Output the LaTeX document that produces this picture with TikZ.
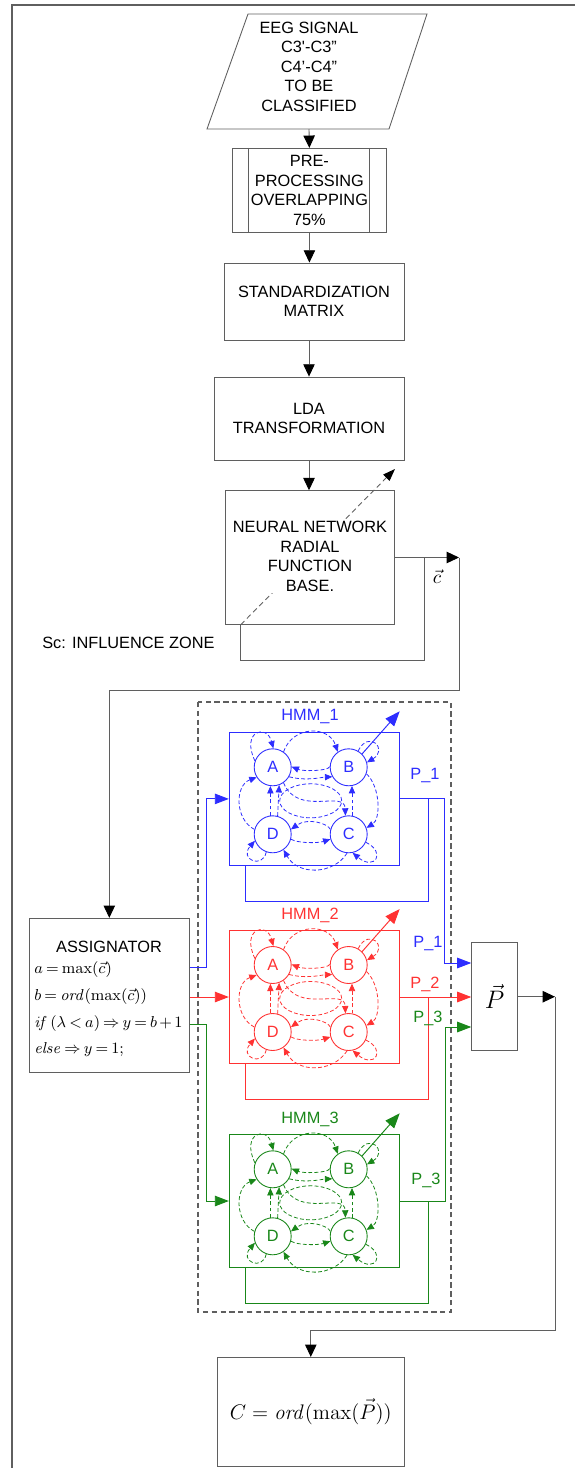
\documentclass[tikz,border=0pt]{standalone}
\usepackage[no-math]{fontspec}
\setmainfont{Liberation Sans}
\usetikzlibrary{arrows.meta,calc}
\definecolor{hb}{RGB}{45,45,255}
\definecolor{hr}{RGB}{255,50,50}
\definecolor{hg}{RGB}{25,135,25}
\definecolor{lgray}{RGB}{95,95,95}
\newcommand\tf{\fontsize{9.3}{11.1}\selectfont}
\newcommand\tightmath{\fontsize{9.5}{11}\selectfont\thickmuskip=3.5mu\relax\medmuskip=2.5mu\relax}
\newcommand\hmmblock[4]{%
\begin{scope}[shift={(#3,#4)}]
\node[st,draw=#2,text=#2] (A#1) at (0,0) {A};
\node[st,draw=#2,text=#2] (B#1) at (76,0) {B};
\node[st,draw=#2,text=#2] (D#1) at (0,67) {D};
\node[st,draw=#2,text=#2] (C#1) at (76,67) {C};
\begin{scope}[tr,#2]
\draw (A#1.160) .. controls (-32,-36) and (-6,-44) .. (A#1.88);
\draw (A#1.55) .. controls (20,-42) and (56,-42) .. (B#1.125);
\draw (B#1.178) .. controls (55,4) and (30,4) .. (A#1.2);
\draw (B#1.60) .. controls (96,-38) and (116,-18) .. (B#1.15);
\draw (D#1.165) .. controls (-38,52) and (-38,18) .. (A#1.212);
\draw (D#1.97) -- (A#1.263);
\draw (D#1.75) -- (A#1.290);
\draw (A#1.-30) .. controls (34,14) and (48,10) .. (B#1.-150);
\draw (A#1.-55) .. controls (25,50) and (72,22) .. (C#1.100);
\draw (B#1.-20) .. controls (108,20) and (108,52) .. (C#1.20);
\draw (C#1.80) -- (B#1.-80);
\draw (C#1.165) .. controls (55,56) and (35,50) .. (D#1.15);
\draw (D#1.-15) .. controls (25,76) and (45,76) .. (C#1.195);
\draw (D#1.-110) .. controls (-10,102) and (-34,92) .. (D#1.200);
\draw (C#1.-95) .. controls (60,108) and (25,108) .. (D#1.-55);
\draw (C#1.-25) .. controls (114,85) and (102,104) .. (C#1.-78);
\draw[-] (38,33.5) ellipse [x radius=0.62cm, y radius=0.34cm];
\end{scope}
\coordinate (o#1) at (127,-56);
\draw[ex,#2] (B#1.45) -- (o#1);
\end{scope}}
\begin{document}
\begin{tikzpicture}[x=0.02cm,y=-0.02cm,
 ln/.style={draw=lgray,line width=0.5pt},
 arr/.style={ln,-{Triangle[length=7pt,width=6.5pt,color=black]}},
 box/.style={ln,align=center,font=\tf,inner sep=0pt},
 st/.style={circle,minimum size=0.74cm,inner sep=0pt,font=\tf,line width=0.5pt},
 tr/.style={line width=0.45pt,dash pattern=on 2.2pt off 1.3pt,-{Triangle[length=4.2pt,width=3.6pt]}},
 carr/.style={line width=0.55pt,-{Triangle[length=8pt,width=6pt]}},
 ex/.style={line width=0.55pt,-{Triangle[length=8.5pt,width=6.5pt]}},
 cln/.style={line width=0.55pt},
 lab/.style={font=\tf,inner sep=0pt,align=center}]
\useasboundingbox (0,0) rectangle (575,1468);
\draw[lgray,line width=0.9pt] (575,5) -- (12,5) -- (12,1468);
% dashed region
\draw[lgray,line width=0.6pt,dash pattern=on 3pt off 2pt] (198,702) rectangle (451,1312);
% input
\node[lab] (eeg) at (309,66.5) {EEG SIGNAL\\C3\textquotesingle-C3"\\C4’-C4”\\TO BE\\CLASSIFIED};
\draw[ln] (248,14) -- (427,14) -- (389,129) -- (207,129) -- cycle;
\coordinate (eegb) at (309,129);
\node[box,minimum width=3.066cm,minimum height=1.688cm] (pre) at (309.4,190.5) {PRE-\\PROCESSING\\OVERLAPPING\\75\%};
\draw[ln] ([xshift=0.332cm]pre.north west) -- ([xshift=0.332cm]pre.south west);
\draw[ln] ([xshift=-0.332cm]pre.north east) -- ([xshift=-0.332cm]pre.south east);
\node[box,minimum width=3.6cm,minimum height=1.54cm] (std) at (314,301.5) {STANDARDIZATION\\MATRIX};
\node[box,minimum width=3.8cm,minimum height=1.66cm] (lda) at (309,418.5) {LDA\\TRANSFORMATION};
\node[box,minimum width=3.386cm,minimum height=2.672cm] (nn) at (309.6,557.5) {};
\draw[arr] (eegb) -- (pre.north);
\draw[arr] (pre.south) -- (pre.south |- std.north);
\draw[arr] (lda.north |- std.south) -- (lda.north);
\draw[arr] (lda.south) -- (lda.south |- nn.north);
% NN feedback and influence zone
\coordinate (cj) at (424,557.5);
\coordinate (ct) at (459,557.5);
\coordinate (zt) at (395,469);
\draw[lgray,line width=0.5pt,dash pattern=on 3pt off 2pt,-{Triangle[length=7pt,width=5pt,color=black]}] (nn.south -| 240.7,0) -- (zt);
\node[lab,fill=white,inner sep=1pt] (nnt) at (310,556.5) {NEURAL NETWORK\\RADIAL\\FUNCTION\\BASE.};
\draw[arr] (nn.east) -- (ct);
\draw[ln] (cj) |- (240.7,660) -- (nn.south -| 240.7,0);
\node[lab,anchor=west] (sc) at (42,643) {Sc: INFLUENCE ZONE};
\node[font=\fontsize{11}{12}\selectfont,inner sep=0pt] (cv) at (437,577) {$\vec{c}$};
% assignator
\node[box,minimum width=3.2cm,minimum height=3.088cm] (asg) at (109.3,995.5) {};
\draw[arr] (ct) -- (459,690) -| (asg.north);
\node[lab] (asgt) at (109,946.7) {ASSIGNATOR};
\begin{scope}[every node/.style={anchor=west,inner sep=0pt,font=\tightmath}]
\node (m1) at (34,970) {$a=\max(\vec{c})$};
\node (m2) at (34,996.7) {$b=\mathit{ord}(\max(\vec{c}))$};
\node (m3) at (34,1024) {$\mathit{if}\,(\lambda<a)\Rightarrow y=b+1$};
\node (m4) at (34,1050) {$\mathit{else}\Rightarrow y=1;$};
\end{scope}
% HMM boxes
\node[draw=hb,cln,minimum width=3.4cm,minimum height=2.674cm] (h1) at (314.3,798.9) {};
\node[draw=hr,cln,minimum width=3.4cm,minimum height=2.674cm] (h2) at (314.3,997) {};
\node[draw=hg,cln,minimum width=3.4cm,minimum height=2.674cm] (h3) at (314.3,1201) {};
\node[lab,text=hb] (l1) at (310,716.7) {HMM\_1};
\node[lab,text=hr] (l2) at (310,915) {HMM\_2};
\node[lab,text=hg] (l3) at (310,1119) {HMM\_3};
\hmmblock{1}{hb}{272.7}{767.3}
\hmmblock{2}{hr}{272.7}{965}
\hmmblock{3}{hg}{272.7}{1169.3}
% inputs
\draw[hb,carr] (asg.east |- 0,967) -- (206,967) |- (h1.west);
\draw[hr,carr] (asg.east |- h2.west) -- (h2.west);
\draw[hg,carr] (asg.east |- 0,1024) -- (206,1024) |- (h3.west);
% P box and outputs
\node[box,minimum width=0.92cm,minimum height=2.16cm,font=\fontsize{14}{16}\selectfont] (pv) at (494.7,996.7) {$\vec{P}$};
\draw[hb,carr] (h1.east) -| (444.5,963) -- (pv.west |- 0,963);
\draw[hb,cln] (h1.east -| 428.3,0) |- (245.7,901) -- (h1.south -| 245.7,0);
\draw[hr,carr] (h2.east) -- (h2.east -| pv.west);
\draw[hr,cln] (h2.east -| 428.3,0) |- (245.7,1099) -- (h2.south -| 245.7,0);
\draw[hg,carr] (h3.east) -| (445.5,1027) -- (pv.west |- 0,1027);
\draw[hg,cln] (h3.east -| 428.3,0) |- (245.7,1303.3) -- (h3.south -| 245.7,0);
\node[lab,text=hb] (p1a) at (425,775) {P\_1};
\node[lab,text=hb] (p1b) at (428,943) {P\_1};
\node[lab,text=hr] (p2) at (425,984) {P\_2};
\node[lab,text=hg] (p3b) at (428,1018) {P\_3};
\node[lab,text=hg] (p3a) at (426,1180) {P\_3};
% result
\node[box,minimum width=3.74cm,minimum height=2.174cm,font=\fontsize{12.5}{14}\selectfont] (cb) at (310.8,1411.7) {$C=\mathit{ord}(\max(\vec{P}))$};
\coordinate (pj) at (555,996.7);
\draw[arr] (pv.east) -- (pj);
\draw[arr] (pj) -- (555,1330) -| (cb.north);
\end{tikzpicture}
\end{document}
